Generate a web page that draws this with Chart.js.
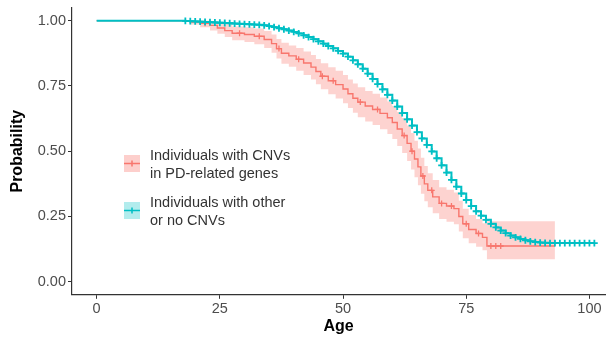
<!DOCTYPE html>
<html>
<head>
<meta charset="utf-8">
<script src="https://cdn.jsdelivr.net/npm/chart.js@4.4.1/dist/chart.umd.min.js"></script>
<style>
  html, body { margin: 0; padding: 0; background: #fff; }
  #wrap { width: 611px; height: 337px; position: relative; }
</style>
</head>
<body>
<div id="wrap"><canvas id="km" width="611" height="337"></canvas></div>
<script>
// Kaplan-Meier curves
var redAge  = [0, 19, 21, 23, 24.5, 26, 27.5, 30, 32, 34, 35.5, 36.5, 37.5, 39, 40.5, 42, 43.5, 44.5, 45.5, 47, 48.5, 50, 51, 52, 53, 54.5, 56, 57.5, 59, 60, 61, 62, 63, 63.8, 64.5, 65.2, 65.8, 66.5, 67.2, 68.2, 69.5, 71, 72.5, 73.5, 74.3, 75.5, 77, 78.3, 79.2, 93];
var redSurv = [1, 0.995, 0.99, 0.982, 0.972, 0.962, 0.952, 0.947, 0.94, 0.928, 0.912, 0.893, 0.875, 0.865, 0.852, 0.838, 0.822, 0.805, 0.787, 0.77, 0.755, 0.738, 0.72, 0.703, 0.688, 0.673, 0.66, 0.645, 0.628, 0.61, 0.585, 0.56, 0.53, 0.5, 0.47, 0.44, 0.405, 0.375, 0.35, 0.325, 0.3, 0.29, 0.28, 0.25, 0.222, 0.2, 0.185, 0.17, 0.137, 0.137];
var redLow  = [1, 0.985, 0.975, 0.962, 0.95, 0.937, 0.925, 0.918, 0.91, 0.895, 0.877, 0.855, 0.835, 0.823, 0.808, 0.792, 0.775, 0.756, 0.737, 0.718, 0.702, 0.684, 0.665, 0.647, 0.63, 0.614, 0.6, 0.584, 0.566, 0.547, 0.52, 0.493, 0.462, 0.43, 0.4, 0.37, 0.337, 0.308, 0.285, 0.262, 0.24, 0.23, 0.22, 0.192, 0.167, 0.147, 0.134, 0.121, 0.086, 0.086];
var redHigh = [1, 1, 1, 0.998, 0.992, 0.986, 0.978, 0.975, 0.97, 0.96, 0.947, 0.93, 0.915, 0.905, 0.895, 0.882, 0.868, 0.853, 0.837, 0.822, 0.808, 0.792, 0.775, 0.759, 0.745, 0.731, 0.72, 0.706, 0.69, 0.673, 0.65, 0.627, 0.598, 0.57, 0.54, 0.51, 0.475, 0.443, 0.416, 0.39, 0.362, 0.352, 0.342, 0.31, 0.28, 0.256, 0.24, 0.224, 0.232, 0.232];
var redCensor = [22, 29, 33, 37, 41, 45.8, 48, 53.5, 57, 62.4, 64, 66.2, 68, 70, 72, 75, 77.5, 80, 81, 82];

var tealAge  = [0, 18, 19, 20, 21, 22, 23, 24, 25, 26, 27, 28, 29, 30, 31, 32, 33, 34, 35, 36, 37, 38, 39, 40, 41, 42, 43, 44, 45, 46, 47, 48, 49, 50, 51, 52, 53, 54, 55, 56, 57, 58, 59, 60, 61, 62, 63, 64, 65, 66, 67, 68, 69, 70, 71, 72, 73, 74, 75, 76, 77, 78, 79, 80, 81, 82, 83, 84, 85, 86, 87, 88, 89, 90, 91, 92, 93, 94, 95, 96, 97, 98, 99, 100, 101];
var tealSurv = [1, 0.999, 0.998, 0.997, 0.996, 0.995, 0.994, 0.993, 0.992, 0.991, 0.99, 0.989, 0.988, 0.987, 0.986, 0.985, 0.984, 0.982, 0.979, 0.975, 0.971, 0.967, 0.962, 0.957, 0.951, 0.944, 0.937, 0.929, 0.921, 0.912, 0.903, 0.894, 0.884, 0.874, 0.862, 0.848, 0.833, 0.816, 0.797, 0.777, 0.757, 0.737, 0.716, 0.694, 0.671, 0.646, 0.622, 0.598, 0.573, 0.549, 0.524, 0.499, 0.473, 0.446, 0.418, 0.39, 0.364, 0.338, 0.313, 0.29, 0.27, 0.253, 0.237, 0.222, 0.208, 0.196, 0.186, 0.177, 0.17, 0.164, 0.159, 0.155, 0.152, 0.15, 0.149, 0.148, 0.148, 0.148, 0.148, 0.148, 0.148, 0.148, 0.148, 0.148, 0.148];

var xTicks = [0, 25, 50, 75, 100];
var yTicks = [0, 0.25, 0.5, 0.75, 1];
var legendLabels = [
  ["Individuals with CNVs", "in PD-related genes"],
  ["Individuals with other", "or no CNVs"]
];

var RED = "#F8766D";
var TEAL = "#00BFC4";
var FONT = "'Liberation Sans', Arial, sans-serif";

function pts(xs, ys) {
  return xs.map(function (x, i) { return { x: x, y: ys[i] }; });
}

// survival value at time t (KM step lookup)
function stepAt(xs, ys, t) {
  var v = ys[0];
  for (var i = 0; i < xs.length; i++) {
    if (xs[i] <= t) v = ys[i];
  }
  return v;
}

var censorPts = redCensor.map(function (t) {
  return { x: t, y: stepAt(redAge, redSurv, t) };
});

var kmLegend = {
  id: "kmLegend",
  afterDraw: function (chart) {
    var ctx = chart.ctx;
    var keys = [
      { top: 155, col: RED, band: "rgba(248,118,109,0.35)" },
      { top: 202, col: TEAL, band: "rgba(0,191,196,0.3)" }
    ];
    ctx.save();
    keys.forEach(function (k, i) {
      ctx.fillStyle = k.band;
      ctx.fillRect(124, k.top, 16, 17);
      var mid = k.top + 8.5;
      ctx.strokeStyle = k.col;
      ctx.lineWidth = 1.5;
      ctx.beginPath();
      ctx.moveTo(124, mid);
      ctx.lineTo(140, mid);
      ctx.moveTo(132, mid - 3);
      ctx.lineTo(132, mid + 3);
      ctx.stroke();
      ctx.fillStyle = "#333333";
      ctx.font = "14.5px " + FONT;
      ctx.textBaseline = "middle";
      ctx.textAlign = "left";
      ctx.fillText(legendLabels[i][0], 150, k.top + 0.5);
      ctx.fillText(legendLabels[i][1], 150, k.top + 18.5);
    });
    ctx.restore();
  }
};

var ctx = document.getElementById("km").getContext("2d");
var chart = new Chart(ctx, {
  type: "line",
  data: {
    datasets: [
      {
        label: "upper",
        data: pts(redAge, redHigh),
        stepped: true,
        borderWidth: 0,
        pointRadius: 0,
        backgroundColor: "rgba(248,118,109,0.32)",
        fill: "+1",
        order: 5
      },
      {
        label: "lower",
        data: pts(redAge, redLow),
        stepped: true,
        borderWidth: 0,
        pointRadius: 0,
        fill: false,
        order: 5
      },
      {
        label: "Individuals with CNVs in PD-related genes",
        data: pts(redAge, redSurv),
        stepped: true,
        borderColor: RED,
        borderWidth: 1.4,
        pointRadius: 0,
        fill: false,
        order: 3
      },
      {
        label: "censor",
        type: "scatter",
        data: censorPts,
        pointStyle: "cross",
        pointRadius: 3,
        pointBorderWidth: 1.3,
        pointBorderColor: RED,
        order: 2
      },
      {
        label: "Individuals with other or no CNVs",
        data: pts(tealAge, tealSurv),
        stepped: true,
        borderColor: TEAL,
        borderWidth: 2,
        pointStyle: "cross",
        pointRadius: function (c) { return c.dataIndex === 0 ? 0 : 3.4; },
        pointBorderWidth: 1.8,
        pointBorderColor: TEAL,
        fill: false,
        order: 1
      }
    ]
  },
  options: {
    responsive: false,
    animation: false,
    layout: { padding: { top: 7.6, right: 0, left: 0, bottom: 0 } },
    plugins: {
      legend: { display: false },
      tooltip: { enabled: false }
    },
    scales: {
      x: {
        type: "linear",
        min: -5,
        max: 103.2,
        afterFit: function (s) {
          s.height = 42.2;
          s.paddingLeft = 0;
          s.paddingRight = 0;
        },
        afterBuildTicks: function (s) {
          s.ticks = xTicks.map(function (v) { return { value: v }; });
        },
        ticks: {
          color: "#4D4D4D",
          font: { family: FONT, size: 14.5 },
          padding: 1,
          maxRotation: 0
        },
        grid: { drawOnChartArea: false, tickLength: 4, tickColor: "#333333", tickWidth: 1 },
        border: { color: "#333333", width: 1.2 },
        title: {
          display: true,
          text: "Age",
          color: "#000",
          font: { family: FONT, size: 16, weight: "bold" },
          padding: { top: 0, bottom: 1 }
        }
      },
      y: {
        min: -0.05,
        max: 1.05,
        afterFit: function (s) {
          s.width = 72;
          s.paddingTop = 0;
          s.paddingBottom = 0;
        },
        afterBuildTicks: function (s) {
          s.ticks = yTicks.map(function (v) { return { value: v }; });
        },
        ticks: {
          color: "#4D4D4D",
          font: { family: FONT, size: 14.5 },
          padding: 2,
          callback: function (v) { return Number(v).toFixed(2); }
        },
        grid: { drawOnChartArea: false, tickLength: 4, tickColor: "#333333", tickWidth: 1 },
        border: { color: "#333333", width: 1.2 },
        title: {
          display: true,
          text: "Probability",
          color: "#000",
          font: { family: FONT, size: 16, weight: "bold" },
          padding: { top: 8, bottom: 0 }
        }
      }
    }
  },
  plugins: [kmLegend]
});
</script>
</body>
</html>
